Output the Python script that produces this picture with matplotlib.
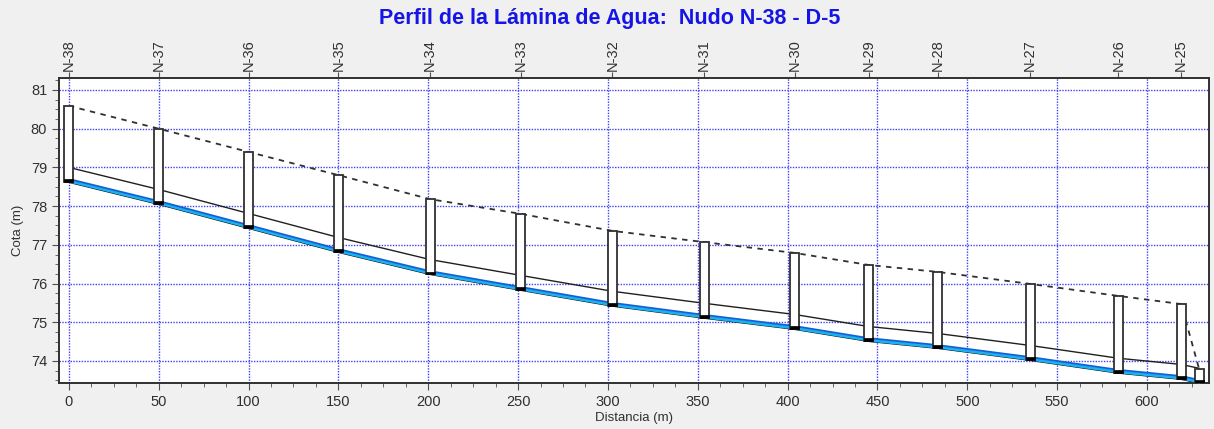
import matplotlib
matplotlib.use("Agg")
import matplotlib.pyplot as plt
from matplotlib.patches import Rectangle
from matplotlib.ticker import MultipleLocator
import numpy as np

plt.rcParams["font.family"] = ["Liberation Sans", "DejaVu Sans"]

# Profile data: manholes along the sewer reach
nodes = ["N-38", "N-37", "N-36", "N-35", "N-34", "N-33", "N-32", "N-31",
         "N-30", "N-29", "N-28", "N-27", "N-26", "N-25", "D-5"]
station = [0.0, 50.0, 100.0, 150.0, 201.0, 251.5, 302.5, 353.5,
           404.0, 445.0, 483.5, 535.0, 584.0, 619.0, 629.0]
ground = [80.59, 80.00, 79.40, 78.80, 78.18, 77.80, 77.36, 77.07,
          76.79, 76.48, 76.30, 75.99, 75.68, 75.47, 73.79]
invert = [78.62, 78.05, 77.43, 76.81, 76.24, 75.83, 75.42, 75.11,
          74.82, 74.51, 74.33, 74.02, 73.69, 73.53, 73.43]
pipe_diameter = 0.38
water_depth = 0.08
top_labels = nodes[:-1]

x = np.array(station)
inv = np.array(invert)
gr = np.array(ground)

fig = plt.figure(figsize=(12.14, 4.29), dpi=100, facecolor="#f0f0f0")
ax = fig.add_axes([0.0486, 0.1072, 0.9473, 0.711])
ax.set_facecolor("white")

ax.set_xlim(-5.5, 634.5)
ax.set_ylim(73.43, 81.31)

# grid
grid_kw = dict(color="#4040f0", linestyle=(0, (1.0, 1.0)), linewidth=1.0, zorder=1)
ax.xaxis.set_major_locator(MultipleLocator(50))
ax.xaxis.set_minor_locator(MultipleLocator(12.5))
ax.yaxis.set_major_locator(MultipleLocator(1))
ax.yaxis.set_minor_locator(MultipleLocator(0.25))
ax.grid(True, which="major", **grid_kw)
ax.set_axisbelow(True)

# ground surface (dashed)
ax.plot(x, gr, color="#303030", linestyle=(0, (3, 3)), linewidth=1.3, zorder=2)

# pipe crown and invert
ax.plot(x, inv + pipe_diameter, color="#202020", linewidth=1.0, zorder=2)
ax.plot(x, inv, color="black", linewidth=1.2, zorder=2)

# water surface
ax.fill_between(x, inv, inv + water_depth, color="#1cb0ee", linewidth=0, zorder=3)
ax.plot(x, inv + water_depth, color="#1060d8", linewidth=1.3, zorder=3)

# manholes
box_w = 5.0
for xi, g, b in zip(station, ground, invert):
    ax.add_patch(Rectangle((xi - box_w / 2, b), box_w, g - b, facecolor="white",
                           edgecolor="#303030", linewidth=1.3, zorder=4))
    ax.add_patch(Rectangle((xi - box_w / 2, b), box_w, 0.07, facecolor="black",
                           edgecolor="black", linewidth=0.5, zorder=5))

# axes styling
for s in ax.spines.values():
    s.set_color("#303030")
    s.set_linewidth(1.4)
ax.tick_params(axis="both", which="major", direction="out", length=5,
               color="#505050", labelsize=10.5, labelcolor="#303030")
ax.tick_params(axis="both", which="minor", direction="out", length=3, color="#505050")
ax.set_xticks(np.arange(0, 601, 50))

ax.set_xlabel("Distancia (m)", fontsize=9.5, color="#303030", labelpad=2)
ax.set_ylabel("Cota (m)", fontsize=9.5, color="#303030", labelpad=5)

# node labels on top
top = ax.secondary_xaxis("top")
top.set_xticks(station[:-1])
top.set_xticklabels(top_labels, rotation=90, fontsize=10.5, color="#303030")
top.tick_params(axis="x", direction="out", length=4, pad=1, color="#505050")
top.spines["top"].set_visible(False)

fig.text(0.502, 0.958, "Perfil de la Lámina de Agua:  Nudo N-38 - D-5",
         ha="center", va="center", fontsize=15.5, fontweight="bold", color="#1515e6")

fig.savefig("out.png", dpi=100, facecolor=fig.get_facecolor())
